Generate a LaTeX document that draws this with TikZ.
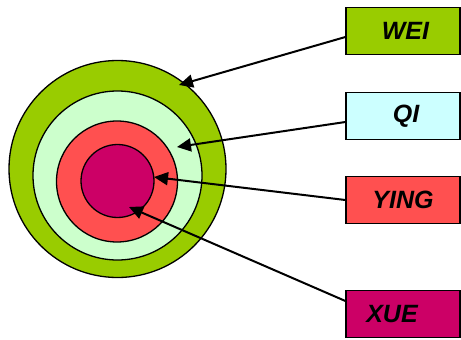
\documentclass[tikz,border=0pt]{standalone}
\usepackage{fontspec}
\setmainfont{Liberation Sans}
\usetikzlibrary{positioning, arrows.meta}
\definecolor{weigreen}{HTML}{99CC00}
\definecolor{qigreen}{HTML}{CCFFCC}
\definecolor{qicyan}{HTML}{CCFFFF}
\definecolor{yingred}{HTML}{FF5050}
\definecolor{xuemag}{HTML}{CC0066}
\begin{document}
\begin{tikzpicture}[
    x=1pt, y=-1pt,
    ring/.style={circle, draw, line width=1.3pt, inner sep=0pt, minimum size=#1},
    label/.style={draw, line width=1.2pt, minimum width=114pt, minimum height=47pt,
        font=\fontsize{25}{25}\selectfont\bfseries\itshape},
    arr/.style={-{Triangle[length=14pt,width=13pt]}, line width=2pt},
]
    \useasboundingbox (0,0) rectangle (461,340);

    % Circles
    \node[ring=217pt, fill=weigreen] (wei) at (117.5,169) {};
    \node[ring=169pt, fill=qigreen] (qi) at (117.5,175.5) {};
    \node[ring=121pt, fill=yingred] (ying) at (117,181.5) {};
    \node[ring=73pt, fill=xuemag] (xue) at (117.5,181) {};

    % Boxes
    \node[label, fill=weigreen] (weibox) at (403,31) {\kern5pt WEI};
    \node[label, fill=qicyan] (qibox) at (403,116) {\kern6pt QI};
    \node[label, fill=yingred] (yingbox) at (403,200) {YING};
    \node[label, fill=xuemag] (xuebox) at (403,314) {XUE\kern22pt};

    % Arrow targets
    \coordinate (weitip) at (179,85);
    \coordinate (qitip) at (177,147);
    \coordinate (yingtip) at (154,177);
    \coordinate (xuetip) at (129,207);

    \draw[arr] (weibox.west |- 0,37) -- (weitip);
    \draw[arr] (qibox.west |- 0,122) -- (qitip);
    \draw[arr] (yingbox.west |- 0,200) -- (yingtip);
    \draw[arr] (xuebox.west |- 0,301) -- (xuetip);
\end{tikzpicture}
\end{document}
